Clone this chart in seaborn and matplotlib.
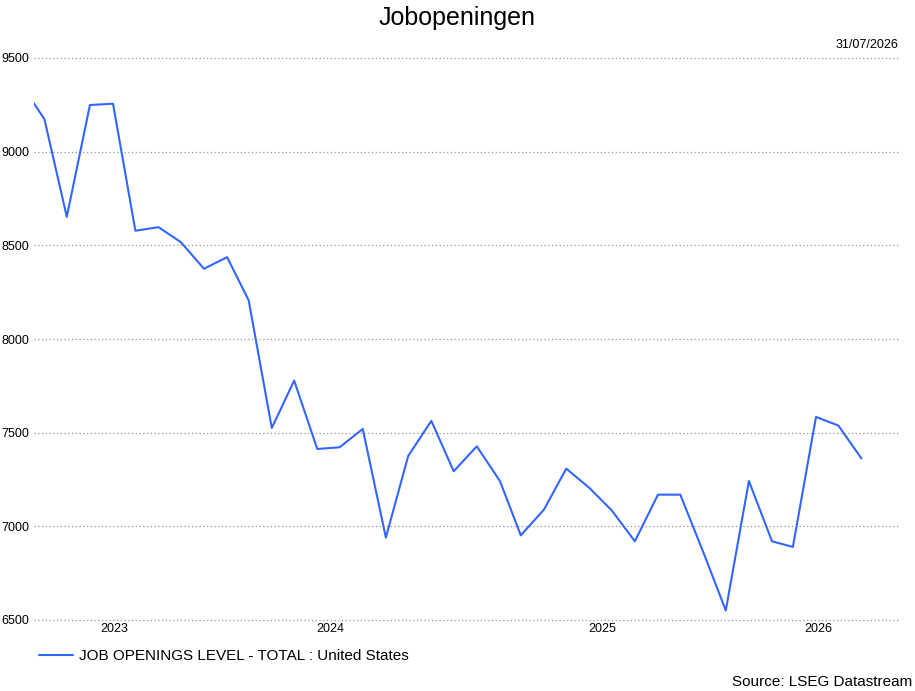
import numpy as np
import pandas as pd
import matplotlib
matplotlib.use("Agg")
import matplotlib.pyplot as plt
import matplotlib.dates as mdates
import seaborn as sns

# monthly job openings (thousands)
# first month sits just left of the plot edge and is clipped
dates = pd.date_range("2023-05-01", periods=38, freq="MS") + pd.Timedelta(days=14)
openings = [9360, 9173, 8652, 9249, 9256, 8578, 8597, 8517, 8375, 8437,
            8206, 7525, 7778, 7413, 7422, 7520, 6940, 7376, 7563, 7294,
            7427, 7242, 6952, 7089, 7308, 7205, 7085, 6920, 7169, 7169,
            6860, 6551, 7242, 6920, 6890, 7584, 7538, 7362]
years = [2023, 2024, 2025, 2026]
yticks = [6500, 7000, 7500, 8000, 8500, 9000, 9500]

series_name = "JOB OPENINGS LEVEL - TOTAL : United States"
title = "Jobopeningen"
date_label = "31/07/2026"
source = "Source: LSEG Datastream"

df = pd.DataFrame({"date": dates, "value": openings})

sns.set_style("white")
plt.rcParams["font.family"] = ["Liberation Sans", "DejaVu Sans"]
plt.rcParams["text.color"] = "black"

W, H = 915, 691
fig = plt.figure(figsize=(W / 100, H / 100), dpi=100)
ax = fig.add_axes([34 / W, 1 - 620 / H, (898 - 34) / W, (620 - 58) / H])

sns.lineplot(data=df, x="date", y="value", ax=ax, color="#3366ff",
             linewidth=1.5, label=series_name, legend=False)

xmin = mdates.date2num(pd.Timestamp("2023-06-01"))
xmax = mdates.date2num(pd.Timestamp("2026-08-03"))
ax.set_xlim(xmin, xmax)
ax.set_ylim(yticks[0], yticks[-1])

# year labels centred in the visible part of each year
xpos = []
for y in years:
    lo = max(xmin, mdates.date2num(pd.Timestamp(f"{y}-01-01")))
    hi = min(xmax, mdates.date2num(pd.Timestamp(f"{y + 1}-01-01")))
    xpos.append((lo + hi) / 2)
ax.set_xticks(xpos)
ax.set_xticklabels([str(y) for y in years])
ax.set_yticks(yticks)
ax.set_yticklabels([str(v) for v in yticks])
ax.tick_params(axis="both", length=0, labelsize=9, colors="black")
ax.tick_params(axis="x", pad=2.5)
ax.tick_params(axis="y", pad=3.4)

ax.grid(False)
ax.yaxis.grid(True, linestyle=(0, (1, 2)), color="#999999", linewidth=0.9)
for gl in ax.get_ygridlines():
    gl.set_clip_on(False)
for s in ax.spines.values():
    s.set_visible(False)
ax.set_xlabel("")
ax.set_ylabel("")

fig.text(0.5, 1 - 24.5 / H, title, ha="center", va="baseline", fontsize=18, color="black")
fig.text(898 / W, 1 - 47.5 / H, date_label, ha="right", va="baseline", fontsize=9, color="black")
fig.text(912 / W, 1 - 686.5 / H, source, ha="right", va="baseline", fontsize=11, color="black")

handles, labels = ax.get_legend_handles_labels()
leg = fig.legend(handles, labels, loc="center left", bbox_to_anchor=(39 / W, 1 - 656 / H),
                 frameon=False, fontsize=11, handlelength=2.2, handletextpad=0.45,
                 borderpad=0, borderaxespad=0)
for t in leg.get_texts():
    t.set_color("black")

fig.savefig("out.png", dpi=100)
